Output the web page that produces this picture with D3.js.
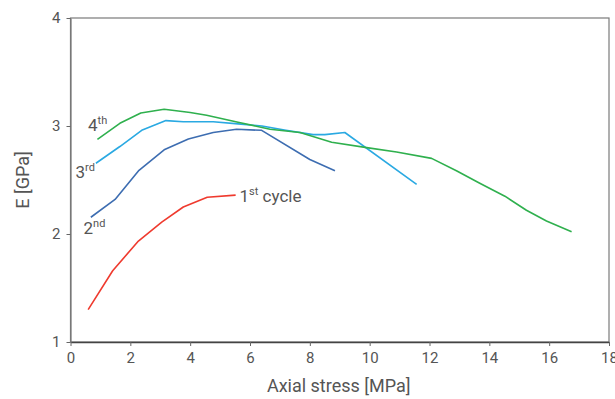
<!DOCTYPE html>
<html>
<head>
<meta charset="utf-8">
<script src="https://cdn.jsdelivr.net/npm/d3@7"></script>
<style>
  html, body { margin: 0; padding: 0; background: #fff; }
  svg { display: block; font-family: Roboto, "Open Sans", sans-serif; }
</style>
</head>
<body>
<svg id="chart" width="615" height="399"></svg>
<script>
// Modulus of elasticity vs axial stress for four loading cycles
const cycle1 = [[0.59, 1.30], [1.41, 1.66], [2.27, 1.935], [3.05, 2.11], [3.77, 2.25], [4.57, 2.34], [5.52, 2.36]];
const cycle2 = [[0.68, 2.155], [1.49, 2.32], [2.29, 2.59], [3.13, 2.78], [3.94, 2.88], [4.77, 2.94], [5.55, 2.97], [6.39, 2.96], [8.0, 2.69], [8.84, 2.585]];
const cycle3 = [[0.85, 2.655], [1.65, 2.81], [2.38, 2.96], [3.19, 3.05], [3.77, 3.04], [4.77, 3.04], [5.6, 3.02], [6.4, 3.0], [7.2, 2.96], [8.11, 2.92], [8.5, 2.92], [9.17, 2.94], [11.57, 2.46]];
const cycle4 = [[0.9, 2.877], [1.65, 3.025], [2.35, 3.12], [3.13, 3.155], [4.0, 3.125], [4.55, 3.10], [5.6, 3.035], [6.67, 2.97], [7.67, 2.94], [8.73, 2.85], [9.9, 2.80], [10.9, 2.76], [12.07, 2.70], [12.9, 2.585], [13.68, 2.47], [14.52, 2.35], [15.24, 2.22], [15.91, 2.12], [16.75, 2.02]];

const xTicks = [0, 2, 4, 6, 8, 10, 12, 14, 16, 18];
const yTicks = [1, 2, 3, 4];

const series = [
  { name: "1st", data: cycle1, color: "#ef3a2e" },
  { name: "2nd", data: cycle2, color: "#3d6db1" },
  { name: "3rd", data: cycle3, color: "#2aa9e2" },
  { name: "4th", data: cycle4, color: "#2fb04e" }
];

const svg = d3.select("#chart");
const margin = { left: 70.5, right: 6, top: 18, bottom: 57 };
const W = 615, H = 399;

const x = d3.scaleLinear().domain([0, 18]).range([margin.left, W - margin.right]);
const y = d3.scaleLinear().domain([1, 4]).range([H - margin.bottom, margin.top]);

// frame
svg.append("rect")
  .attr("x", x(0)).attr("y", y(4))
  .attr("width", x(18) - x(0)).attr("height", y(1) - y(4))
  .attr("fill", "none").attr("stroke", "#7a7a7a").attr("stroke-width", 1.2);

// axes
const gx = svg.append("g")
  .attr("transform", `translate(0,${y(1)})`)
  .call(d3.axisBottom(x).tickValues(xTicks).tickFormat(d3.format("d")).tickSize(4).tickPadding(6).tickSizeOuter(0));
const gy = svg.append("g")
  .attr("transform", `translate(${x(0)},0)`)
  .call(d3.axisLeft(y).tickValues(yTicks).tickFormat(d3.format("d")).tickSize(4).tickPadding(6).tickSizeOuter(0));

gx.select(".domain").attr("stroke", "#444").attr("stroke-width", 1.3);
gy.select(".domain").attr("stroke", "#777").attr("stroke-width", 1.2);
[gx, gy].forEach(g => {
  g.selectAll(".tick line").attr("stroke", "#666");
  g.selectAll(".tick text").attr("fill", "#555").style("font-size", "15px").style("font-family", "Roboto, sans-serif");
});

// axis titles
svg.append("text")
  .attr("x", (x(0) + x(18)) / 2 - 1).attr("y", 392)
  .attr("text-anchor", "middle").attr("fill", "#555")
  .style("font-size", "18px").text("Axial stress [MPa]");
svg.append("text")
  .attr("transform", `translate(29,${(y(1) + y(4)) / 2}) rotate(-90)`)
  .attr("text-anchor", "middle").attr("fill", "#555")
  .style("font-size", "18px").text("E [GPa]");

// curves
const line = d3.line().x(d => x(d[0])).y(d => y(d[1]));
svg.append("g").selectAll("path")
  .data(series)
  .join("path")
  .attr("d", d => line(d.data))
  .attr("fill", "none")
  .attr("stroke", d => d.color)
  .attr("stroke-width", 1.6)
  .attr("stroke-linejoin", "round");

// cycle labels with superscript ordinals
const labels = [
  { num: "4", sup: "th", rest: "", px: 88, py: 131 },
  { num: "3", sup: "rd", rest: "", px: 75.5, py: 178 },
  { num: "2", sup: "nd", rest: "", px: 83.5, py: 234 },
  { num: "1", sup: "st", rest: " cycle", px: 239.5, py: 202 }
];
labels.forEach(l => {
  const t = svg.append("text")
    .attr("x", l.px).attr("y", l.py)
    .attr("fill", "#555").style("font-size", "17px");
  t.append("tspan").text(l.num);
  t.append("tspan").attr("dy", -7).style("font-size", "11px").text(l.sup);
  if (l.rest) t.append("tspan").attr("dy", 7).text(l.rest);
});
</script>
</body>
</html>
